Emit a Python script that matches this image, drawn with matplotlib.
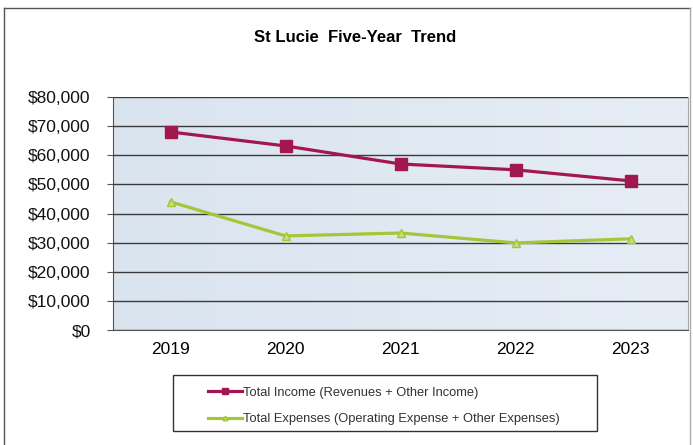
import matplotlib
matplotlib.use("Agg")
import matplotlib.pyplot as plt
from matplotlib.ticker import FuncFormatter, MultipleLocator
from matplotlib.lines import Line2D
from matplotlib.patches import Rectangle
from matplotlib.colors import LinearSegmentedColormap
import numpy as np

years = ["2019", "2020", "2021", "2022", "2023"]
income = [68000, 63200, 57000, 55000, 51200]
expenses = [44000, 32300, 33300, 29900, 31300]
title = "St Lucie  Five-Year  Trend"
income_label = "Total Income (Revenues + Other Income)"
expenses_label = "Total Expenses (Operating Expense + Other Expenses)"

plt.rcParams['font.family'] = ['Liberation Sans', 'DejaVu Sans']

W, H = 693, 445
fig = plt.figure(figsize=(W/100, H/100), dpi=100)
fig.patch.set_facecolor('white')

# outer frame
fig.add_artist(Line2D([4/W, 4/W], [0, 1-8/H], transform=fig.transFigure, color='#555555', lw=1))
fig.add_artist(Line2D([4/W, 690/W], [1-8/H, 1-8/H], transform=fig.transFigure, color='#555555', lw=1))
fig.add_artist(Line2D([690/W, 690/W], [0, 1-8/H], transform=fig.transFigure, color='#aaaaaa', lw=1))

ax = fig.add_axes([113/W, 1-330/H, (688-113)/W, (330-97)/H])
x = np.arange(len(years))
ax.set_xlim(-0.5, len(years)-0.5)
ax.set_ylim(0, 80000)

# gradient background
grad = np.linspace(0, 1, 256).reshape(1, -1)
cmap = LinearSegmentedColormap.from_list('bg', ['#dae4ef', '#e6edf5'])
ax.imshow(grad, extent=[-0.5, len(years)-0.5, 0, 80000], aspect='auto', cmap=cmap, zorder=0)

ax.yaxis.set_major_locator(MultipleLocator(10000))
ax.yaxis.set_major_formatter(FuncFormatter(lambda v, p: f"${v:,.0f}"))
ax.grid(axis='y', color='#3a3a3a', lw=1, zorder=1)
ax.set_axisbelow(False)

ax.plot(x, income, color='#a3174f', lw=2.3, marker='s', ms=8, mfc='#a3174f', mec='#a3174f', zorder=3, label=income_label)
ax.plot(x, expenses, color='#a4c639', lw=2.3, marker='^', ms=6, mfc='#c8dc80', mec='#a4c639', zorder=3, label=expenses_label)

ax.set_xticks(x)
ax.set_xticklabels(years)
ax.tick_params(axis='x', length=0, labelsize=12.5, pad=9, colors='#000000')
ax.tick_params(axis='y', length=4, labelsize=12.5, pad=12, color='#555555', labelcolor='#111111')
for s in ['left', 'bottom']:
    ax.spines[s].set_color('#555555')
ax.spines['top'].set_visible(False)
ax.spines['right'].set_color('#aaaaaa')

fig.text(355/W, 1-37/H, title, ha='center', va='center', fontsize=12, fontweight='bold')

# legend frame
fig.add_artist(Rectangle((173/W, 1-431/H), (597-173)/W, (431-375)/H, transform=fig.transFigure,
                         fill=False, edgecolor='#333333', lw=1))
leg = fig.legend(loc='center left', bbox_to_anchor=(208/W, 1-406/H),
                 bbox_transform=fig.transFigure, fontsize=9.3, frameon=False,
                 handlelength=2.6, handletextpad=0.1, borderpad=0, labelspacing=1.15,
                 borderaxespad=0, markerscale=0.55)
for t in leg.get_texts():
    t.set_color('#333333')

fig.savefig('out.png', dpi=100)
